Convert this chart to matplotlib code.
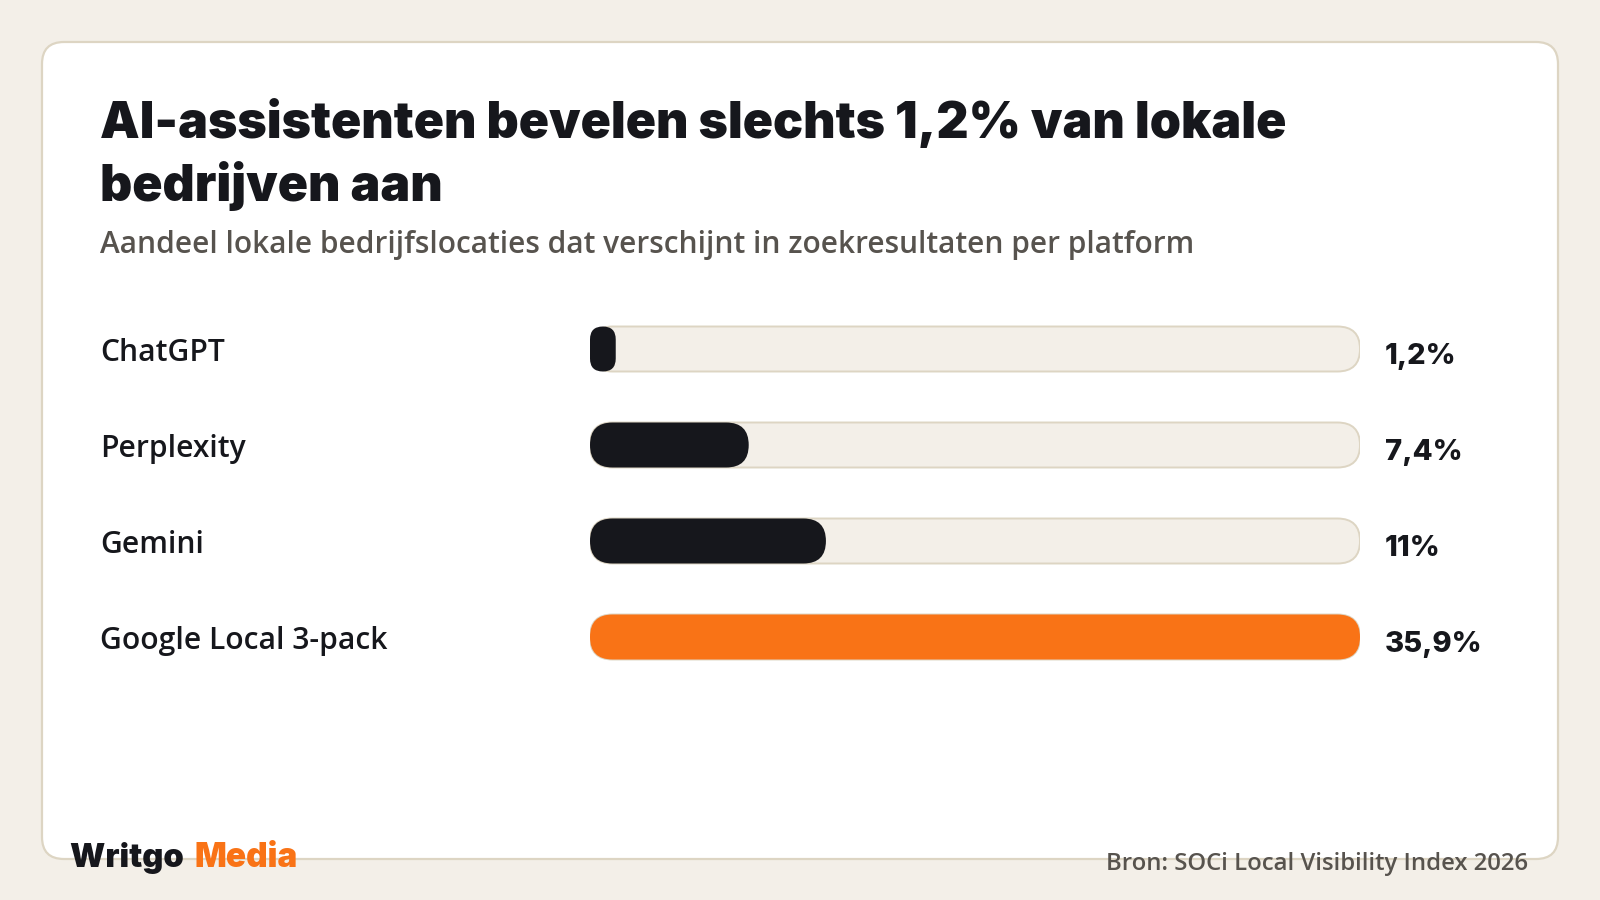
import matplotlib
matplotlib.use("Agg")
import matplotlib.pyplot as plt
from matplotlib.patches import FancyBboxPatch
from matplotlib import transforms
from matplotlib.font_manager import FontProperties, fontManager

platforms = ["ChatGPT", "Perplexity", "Gemini", "Google Local 3-pack"]
shares = [1.2, 7.4, 11.0, 35.9]
share_labels = ["1,2%", "7,4%", "11%", "35,9%"]
title_lines = ["AI-assistenten bevelen slechts 1,2% van lokale", "bedrijven aan"]
subtitle = "Aandeel lokale bedrijfslocaties dat verschijnt in zoekresultaten per platform"
source = "Bron: SOCi Local Visibility Index 2026"

BG = "#f3efe8"
BORDER = "#ddd5c3"
DARK = "#16171c"
ORANGE = "#f97316"
GREY = "#57534e"


def font(fname, family, weight, size):
    # pick a static font file if it is there, else let matplotlib choose
    for f in fontManager.ttflist:
        if f.fname.endswith(fname):
            return FontProperties(fname=f.fname, size=size)
    return FontProperties(family=family, weight=weight, size=size)


fig = plt.figure(figsize=(16, 9), dpi=100, facecolor=BG)

# pixel canvas for the card and the texts
bg = fig.add_axes([0, 0, 1, 1])
bg.set_xlim(0, 1600)
bg.set_ylim(900, 0)
bg.axis("off")

card = FancyBboxPatch((42, 42), 1516, 817, boxstyle="round,pad=0,rounding_size=22",
                      fc="white", ec=BORDER, lw=1.6)
bg.add_patch(card)

title_fp = font("Inter-Black.otf", "Inter", 900, 36)
bg.text(100, 138, title_lines[0], fontproperties=title_fp, color=DARK, va="baseline")
bg.text(100, 201, title_lines[1], fontproperties=title_fp, color=DARK, va="baseline")
bg.text(100, 253, subtitle, fontproperties=font("OpenSans-SemiBold.ttf", "Open Sans", 600, 21.5),
        color=GREY, va="baseline")

logo_fp = font("Inter-Black.otf", "Inter", 900, 23.5)
t = bg.text(70, 867, "Writgo ", fontproperties=logo_fp, color=DARK, va="baseline")
bg.annotate("Media", xy=(1, 0), xycoords=t, xytext=(4, 0), textcoords="offset pixels",
            fontproperties=font("Inter-Black.otf", "Inter", 900, 24), color=ORANGE,
            va="bottom", ha="left")
bg.text(1528, 870, source, fontproperties=font("OpenSans-SemiBold.ttf", "Open Sans", 600, 17.2),
        color=GREY, va="baseline", ha="right")

# bar area: x from 590 to 1360 px, row centres 349..637 px
x0, x1 = 590, 1360
top, bottom = 301, 685
ax = fig.add_axes([x0 / 1600, (900 - bottom) / 900, (x1 - x0) / 1600, (bottom - top) / 900])
ax.set_xlim(0, max(shares))
ax.set_ylim(len(platforms) - 0.5, -0.5)
ax.axis("off")
ax.patch.set_alpha(0)

px_per_x = (x1 - x0) / max(shares)
px_per_y = (bottom - top) / len(platforms)
aspect = px_per_x / px_per_y
bar_h = 45 / px_per_y
r_full = 22.5 / px_per_x

label_fp = font("OpenSans-SemiBold.ttf", "Open Sans", 600, 21.6)
value_fp = font("Inter-ExtraBold.otf", "Inter", 800, 21)
tr = transforms.blended_transform_factory(fig.transFigure, ax.transData)

for i, (name, v, lab) in enumerate(zip(platforms, shares, share_labels)):
    col = ORANGE if i == len(platforms) - 1 else DARK
    track = FancyBboxPatch((0, i - bar_h / 2), max(shares), bar_h,
                           boxstyle=f"round,pad=0,rounding_size={r_full}",
                           mutation_aspect=aspect, fc=BG, ec=BORDER, lw=1.4)
    ax.add_patch(track)
    r = min(r_full, v / 2)
    bar = FancyBboxPatch((0, i - bar_h / 2), v, bar_h,
                         boxstyle=f"round,pad=0,rounding_size={r}",
                         mutation_aspect=aspect, fc=col, ec="none", zorder=3)
    ax.add_patch(bar)
    ax.annotate(lab, xy=(max(shares), i), xytext=(25, -15), textcoords="offset pixels",
                fontproperties=value_fp, color=DARK, va="baseline")
    ax.annotate(name, xy=(100 / 1600, i), xycoords=tr, xytext=(0, -12), textcoords="offset pixels",
                fontproperties=label_fp, color=DARK, va="baseline")

fig.savefig("out.png", dpi=100, facecolor=BG)
